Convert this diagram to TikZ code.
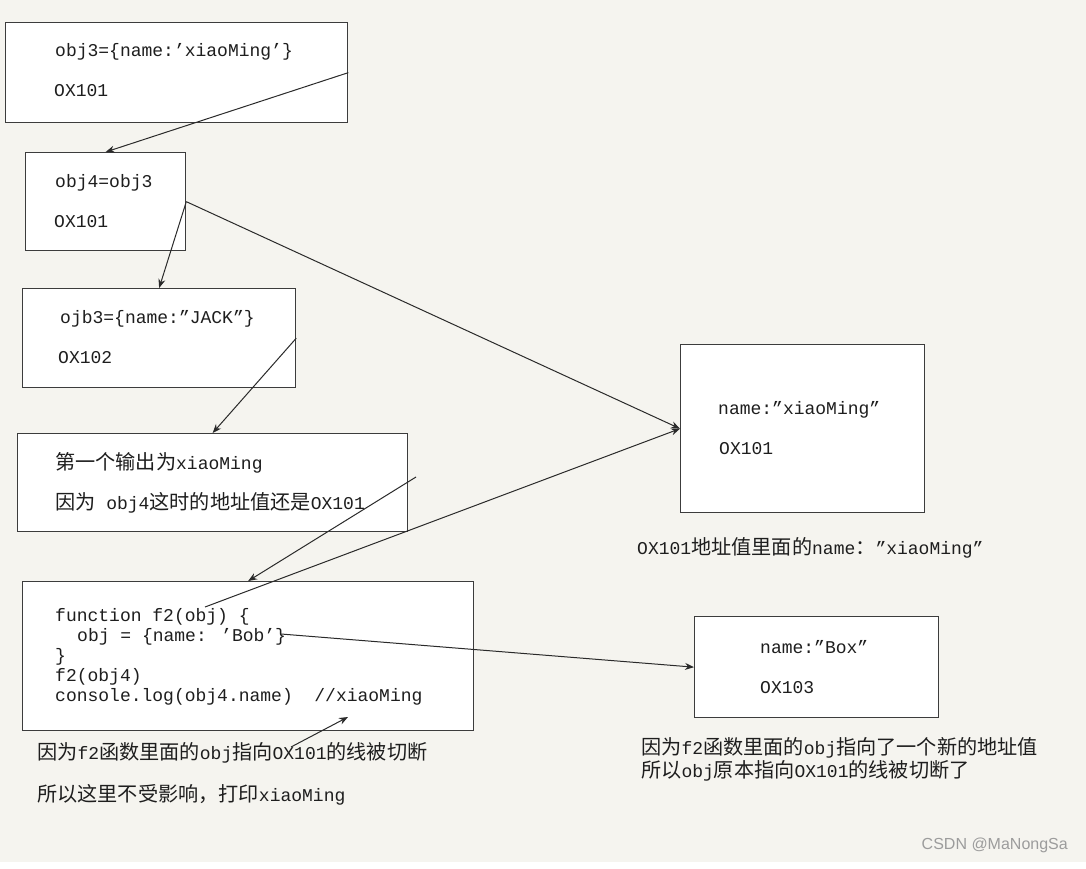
\documentclass[tikz,border=0pt]{standalone}
\usepackage{fontspec}
\setmainfont{Liberation Mono}
\newfontfamily\cjk[Scale=1.12]{Noto Sans CJK SC}
\newfontfamily\wmfont{Liberation Sans}
\usetikzlibrary{arrows.meta}
\definecolor{bgc}{HTML}{F5F4EF}
\definecolor{boxc}{HTML}{3C3C3C}
\definecolor{linec}{HTML}{2A2A2A}
\definecolor{txtc}{HTML}{1E1E1E}
\definecolor{wmc}{HTML}{9C9C9C}
\tikzset{
  membox/.style={draw=boxc, line width=1.3pt, fill=white, anchor=north west, inner sep=0pt},
  txt/.style={anchor=base west, inner sep=0pt, font=\fontsize{18}{20}\selectfont, text=txtc},
  ptr/.style={draw=linec, line width=1pt, -{Stealth[length=9pt,width=7pt]}}
}
\begin{document}
\begin{tikzpicture}[x=1pt,y=-1pt]
\useasboundingbox (0,0) rectangle (1086,869);
\fill[white] (0,0) rectangle (1086,869);
\fill[bgc] (0,0) rectangle (1086,862);

% boxes
\node[membox, minimum width=342pt, minimum height=100pt] (obj3) at (5,22) {};
\node[membox, minimum width=160pt, minimum height=98pt] (obj4) at (25,152) {};
\node[membox, minimum width=273pt, minimum height=99pt] (ojb3) at (22,288) {};
\node[membox, minimum width=390pt, minimum height=98pt] (out1) at (17,433) {};
\node[membox, minimum width=451pt, minimum height=149pt] (func) at (22,581) {};
\node[membox, minimum width=244pt, minimum height=168pt] (heap) at (680,344) {};
\node[membox, minimum width=244pt, minimum height=101pt] (box2) at (694,616) {};

% texts in boxes
\node[txt] (t1a) at (55,57) {obj3=\{name:’xiaoMing’\}};
\node[txt] (t1b) at (54,97) {OX101};
\node[txt] (t2a) at (55,188) {obj4=obj3};
\node[txt] (t2b) at (54,227) {OX101};
\node[txt] (t3a) at (60,323) {ojb3=\{name:”JACK”\}};
\node[txt] (t3b) at (58,363) {OX102};
\node[txt] (t4a) at (55,469) {{\cjk 第一个输出为}xiaoMing};
\node[txt] (t4b) at (55,509) {{\cjk 因为} obj4{\cjk 这时的地址值还是}OX101};
\node[txt] (c1) at (55,621) {function f2(obj) \{};
\node[txt] (c2) at (77,641) {obj = \{name: ’Bob’\}};
\node[txt] (c3) at (55,661) {\}};
\node[txt] (c4) at (55,681) {f2(obj4)};
\node[txt] (c5) at (55,701) {console.log(obj4.name)\ \ //xiaoMing};
\node[txt] (t6a) at (718,414) {name:”xiaoMing”};
\node[txt] (t6b) at (719,454) {OX101};
\node[txt] (t7a) at (760,653) {name:”Box”};
\node[txt] (t7b) at (760,693) {OX103};

% captions
\node[txt] (cap1) at (637,554) {OX101{\cjk 地址值里面的}name{\cjk ：}”xiaoMing”};
\node[txt] (cap2) at (37,759) {{\cjk 因为}f2{\cjk 函数里面的}obj{\cjk 指向}OX101{\cjk 的线被切断}};
\node[txt] (cap3) at (37,801) {{\cjk 所以这里不受影响，打印}xiaoMing};
\node[txt] (cap4) at (641,754) {{\cjk 因为}f2{\cjk 函数里面的}obj{\cjk 指向了一个新的地址值}};
\node[txt] (cap5) at (641,777) {{\cjk 所以}obj{\cjk 原本指向}OX101{\cjk 的线被切断了}};
\node[anchor=base east, inner sep=0pt, font=\wmfont\fontsize{16}{18}\selectfont, text=wmc] (wm) at (1068,849) {CSDN @MaNongSa};

% free ends
\coordinate (e1) at (416,477);
\coordinate (f1) at (205,607);
\coordinate (g1) at (281,634);
\coordinate (h1) at (291,747);
\coordinate (h2) at (348,717);

% connectors
\draw[ptr] (obj3.east) -- (obj4.north);
\draw[ptr] (obj4.east) -- (ojb3.north);
\draw[ptr] (obj4.east) -- (heap.west);
\draw[ptr] (ojb3.east) -- (out1.north);
\draw[ptr] (e1) -- (func.north);
\draw[ptr] (f1) -- (heap.west);
\draw[ptr] (g1) -- (box2.west);
\draw[ptr] (h1) -- (h2);
\end{tikzpicture}
\end{document}
